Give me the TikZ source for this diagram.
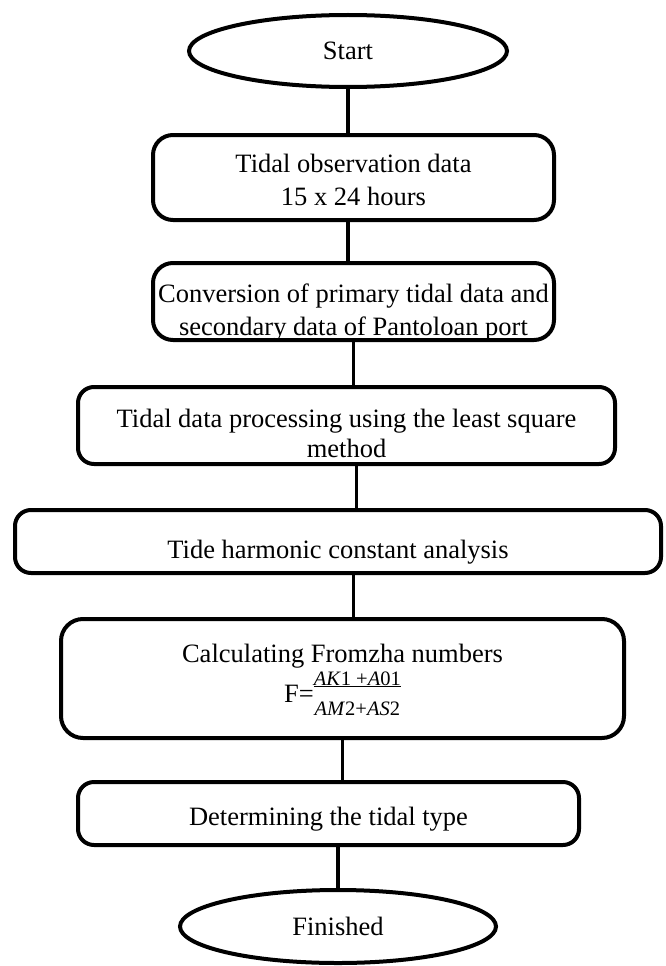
\documentclass[tikz,border=0pt]{standalone}
\usepackage{fontspec}
\setmainfont{Liberation Serif}
\usetikzlibrary{shapes.geometric}

\newcommand{\fracsize}{\fontsize{20.5}{20.5}\selectfont}
% numerator over denominator, baseline of the denominator 13pt below the text line
\newcommand{\fracstack}[2]{\lower13pt\vbox{\halign{\hfil##\hfil\cr#1\cr
  \noalign{\kern1pt\hrule height 1.2pt\kern14pt}#2\cr}}}

\begin{document}
\begin{tikzpicture}[x=1pt,y=-1pt,line width=4pt,
        font=\fontsize{26.5}{33}\selectfont,
        term node/.style={ellipse,draw,inner sep=0pt},
        box node/.style={rectangle,draw,rounded corners=16pt,align=center,inner sep=0pt,text depth=0pt}]
        \useasboundingbox (0,0) rectangle (665,966);
        \node[term node,minimum width=318pt,minimum height=72pt] (start) at (348,51) {Start};
        \node[box node,minimum width=401pt,minimum height=85pt,text height=55pt,
              rounded corners=20pt] (tidal) at (353.5,177.5) {Tidal observation data\\15 x 24 hours};
        \node[box node,minimum width=401pt,minimum height=77pt,text height=67pt,
              rounded corners=20pt] (conv) at (353.5,301.5) {Conversion of primary tidal data and\\secondary data of Pantoloan port};
        \node[box node,minimum width=537pt,minimum height=77pt,text height=63pt,
              font=\fontsize{26.5}{30}\selectfont] (proc) at (346.5,425.5) {Tidal data processing using the least square\\method};
        \node[box node,minimum width=646pt,minimum height=63pt,text height=33pt] (harm) at (338,541.5) {Tide harmonic constant analysis};
        \node[box node,minimum width=563pt,minimum height=119pt,text height=47pt,
              rounded corners=22pt] (fromzha) at (342.5,678.5)
              {Calculating Fromzha numbers\\[2pt]F=\fracstack{\fracsize\textit{AK}1 +\textit{A}01}{\fracsize\textit{AM}2+\textit{AS}2}};
        \node[box node,minimum width=501pt,minimum height=63pt,text height=24pt] (type) at (328.5,813.5) {Determining the tidal type};
        \node[term node,minimum width=316pt,minimum height=73pt] (finish) at (338,926.5) {Finished};

        \path[line width=3.5pt]
        (start.south) edge (start.south |- tidal.north)
        (tidal.south -| start.south) edge (conv.north -| start.south)
        (conv.south) edge (conv.south |- proc.north)
        ([xshift=10pt]proc.south) edge ([xshift=10pt]proc.south |- harm.north)
        (harm.south -| conv.south) edge (fromzha.north -| conv.south)
        (fromzha.south) edge (fromzha.south |- type.north)
        (type.south -| finish.north) edge (finish.north)
        ;
\end{tikzpicture}
\end{document}
